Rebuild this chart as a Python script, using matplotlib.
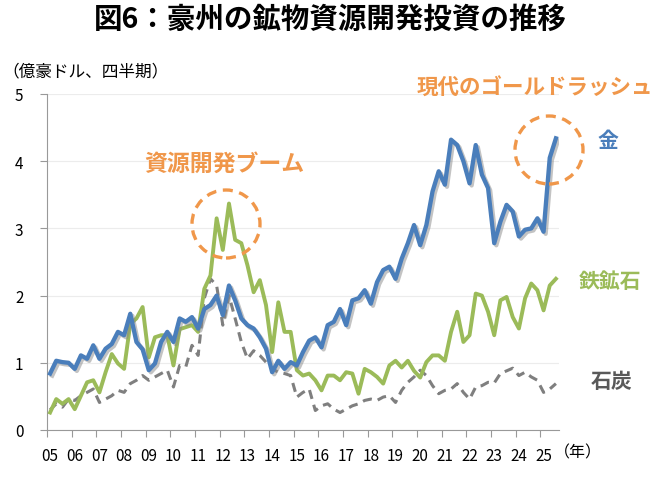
"""Australia mineral exploration/development investment by commodity (quarterly)."""
import numpy as np
import matplotlib
matplotlib.use("Agg")
import matplotlib.pyplot as plt
import matplotlib.patheffects as pe
from matplotlib.patches import Ellipse

plt.rcParams["font.family"] = ["Noto Sans CJK JP", "DejaVu Sans"]

# quarterly values, 2005Q1 .. 2025Q3 (100 million AUD)
year_labels = ["%02d" % y for y in range(5, 26)]

gold = [0.84, 1.03, 1.01, 1.0, 0.91, 1.11, 1.06, 1.26, 1.06, 1.21, 1.28, 1.46,
        1.41, 1.73, 1.31, 1.2, 0.89, 0.99, 1.31, 1.46, 1.31, 1.66, 1.61, 1.68,
        1.51, 1.8, 1.86, 2.0, 1.71, 2.15, 1.93,
        1.66, 1.56, 1.51, 1.38, 1.21, 0.86, 1.03, 0.91, 1.01, 0.96, 1.16, 1.33,
        1.38, 1.23, 1.56, 1.61, 1.8, 1.56, 1.93, 1.96, 2.08, 1.88, 2.2, 2.38,
        2.43, 2.25,
        2.55, 2.78, 3.05, 2.75, 3.05, 3.55, 3.85, 3.65, 4.32, 4.24, 4.0, 3.67,
        4.24, 3.8, 3.6, 2.78, 3.1, 3.35, 3.25, 2.88, 2.98, 3.0, 3.15, 2.95,
        4.05, 4.34]

iron_ore = [0.26, 0.46, 0.39, 0.46, 0.31, 0.51, 0.71, 0.74, 0.56, 0.86, 1.13,
            0.99, 0.91, 1.58, 1.66, 1.83, 1.08, 1.38, 1.41, 1.41, 0.96, 1.5,
            1.53, 1.56, 1.46, 2.1, 2.3, 3.15, 2.68, 3.37, 2.83,
            2.78, 2.45, 2.05, 2.23, 1.86, 1.16, 1.9, 1.46, 1.46, 0.89, 0.81,
            0.84, 0.74, 0.59, 0.81, 0.81, 0.74, 0.86, 0.84, 0.54, 0.91, 0.86,
            0.79, 0.69, 0.96, 1.03,
            0.93, 1.03, 0.88, 0.78, 1.01, 1.11, 1.11, 1.03, 1.46, 1.76, 1.31,
            1.41, 2.03, 2.0, 1.76, 1.41, 1.93, 1.98, 1.68, 1.51, 1.96, 2.18,
            2.08, 1.78, 2.15, 2.25]

coal = [0.3, 0.39, 0.34, 0.46, 0.44, 0.51, 0.56, 0.61, 0.41, 0.46, 0.51, 0.59,
        0.56, 0.69, 0.74, 0.81, 0.74, 0.79, 0.84, 0.89, 0.64, 0.96, 0.94, 1.26,
        1.11, 1.96, 2.25, 2.15, 1.56, 2.0, 1.66,
        1.31, 1.06, 1.18, 1.11, 1.01, 0.91, 0.86, 0.84, 0.81, 0.49, 0.56, 0.61,
        0.29, 0.36, 0.39, 0.31, 0.26, 0.31, 0.36, 0.39, 0.44, 0.46, 0.44, 0.49,
        0.51, 0.41, 0.59, 0.71, 0.79, 0.89, 0.81, 0.66,
        0.54, 0.59, 0.61, 0.69, 0.56, 0.46, 0.64, 0.66, 0.71, 0.7, 0.84, 0.88,
        0.92, 0.81, 0.86, 0.79, 0.74, 0.56, 0.61, 0.69]

BLUE = "#4A7EBB"
GREEN = "#9BBB59"
GREY = "#7F7F7F"
ORANGE = "#F0974A"

x = np.arange(len(gold))

fig = plt.figure(figsize=(6.6, 4.81), dpi=100)
ax = fig.add_axes([47 / 660, 50 / 481, 512 / 660, 336 / 481])

ax.plot(x, iron_ore, color=GREEN, linewidth=2.8, zorder=3)
ax.plot(x, coal, color=GREY, linewidth=2.2, dashes=(3, 2), zorder=2)
ax.plot(x, gold, color=BLUE, linewidth=3.1, zorder=4,
        path_effects=[pe.SimpleLineShadow(offset=(1.5, -1.5), shadow_color="#888888", alpha=0.5),
                      pe.Normal()])

ax.set_xlim(-0.5, len(gold) - 0.5)
ax.set_ylim(0, 5)
ax.set_yticks(range(6))
ax.grid(axis="y", color="#ECECEC", linewidth=0.8)
ax.set_axisbelow(True)

ax.set_xticks(np.arange(0, 81, 4))
ax.set_xticklabels(year_labels)
ax.set_xticks(np.arange(-0.5, 80, 4), minor=True)
ax.tick_params(axis="x", which="major", length=0, pad=12, labelsize=11)
ax.tick_params(axis="x", which="minor", length=5, width=0.8, color="#999999", direction="out")
ax.tick_params(axis="y", length=5, width=0.8, color="#999999", pad=12, labelsize=11)

for side in ["top", "right"]:
    ax.spines[side].set_visible(False)
for side in ["left", "bottom"]:
    ax.spines[side].set_color("#999999")
    ax.spines[side].set_linewidth(0.8)

fig.text(0.5, 1 - 20 / 481, "図6：豪州の鉱物資源開発投資の推移", ha="center", va="center",
         fontsize=20.5, fontweight="bold")
fig.text(2 / 660, 1 - 72 / 481, "（億豪ドル、四半期）", ha="left", va="center", fontsize=12)
fig.text(578 / 660, 1 - 453 / 481, "（年）", ha="center", va="center", fontsize=11.5)

fig.text(224 / 660, 1 - 164 / 481, "資源開発ブーム", ha="center", va="center",
         fontsize=16.5, fontweight="bold", color=ORANGE)
fig.text(535 / 660, 1 - 88 / 481, "現代のゴールドラッシュ", ha="center", va="center",
         fontsize=15.5, fontweight="bold", color=ORANGE)

for cx, cy in [(226, 225), (549, 151)]:
    fig.patches.append(Ellipse((cx / 660, 1 - cy / 481), 68 / 660, 68 / 481,
                               transform=fig.transFigure, fill=False,
                               edgecolor=ORANGE, linewidth=2.4, linestyle=(0, (3, 2))))

fig.text(608 / 660, 1 - 141 / 481, "金", ha="center", va="center",
         fontsize=15, fontweight="bold", color=BLUE)
fig.text(610 / 660, 1 - 282 / 481, "鉄鉱石", ha="center", va="center",
         fontsize=15, fontweight="bold", color=GREEN)
fig.text(612 / 660, 1 - 382 / 481, "石炭", ha="center", va="center",
         fontsize=15, fontweight="bold", color="#595959")

fig.savefig("out.png", dpi=100)
